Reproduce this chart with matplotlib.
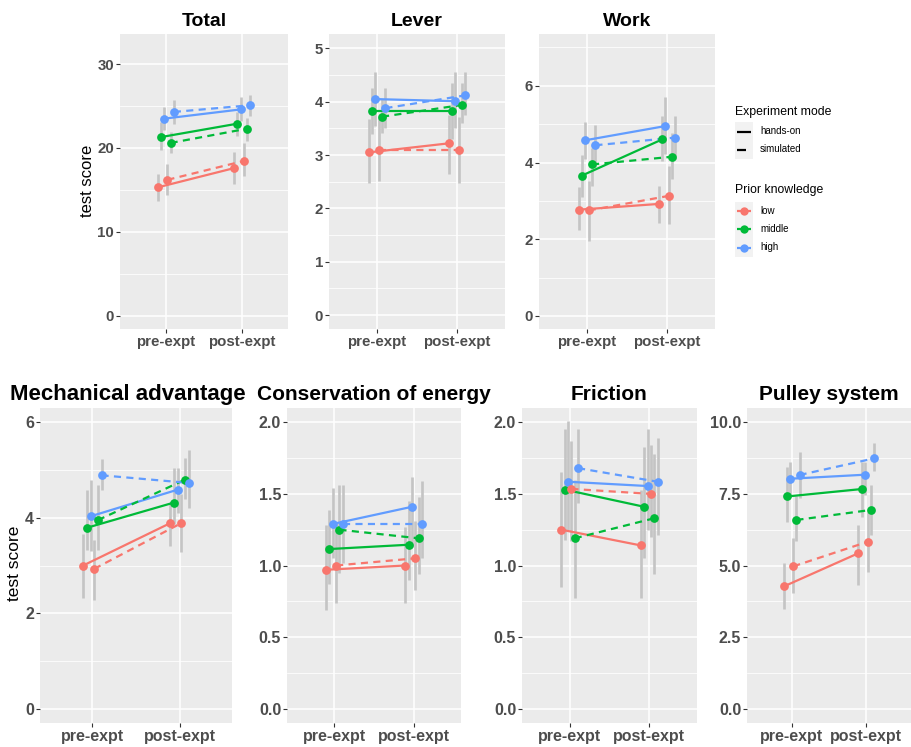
import matplotlib
matplotlib.use("Agg")
import matplotlib.pyplot as plt
from matplotlib.patches import Rectangle

plt.rcParams["font.family"] = ["Liberation Sans", "DejaVu Sans"]

W, H = 912, 747

phases = ["pre-expt", "post-expt"]
knowledge = ["low", "middle", "high"]
modes = ["hands-on", "simulated"]
colors = ["#F8766D", "#00BA38", "#619CFF"]

# rows: low/hands-on, middle/hands-on, high/hands-on, low/simulated, middle/simulated, high/simulated
# cols: pre-expt, post-expt
total_mean = [[15.3, 17.6], [21.3, 22.9], [23.5, 24.6], [16.2, 18.45], [20.6, 22.3], [24.3, 25.1]]
total_lo = [[13.7, 15.7], [19.8, 21.4], [22.2, 23.2], [14.4, 16.65], [19.4, 20.8], [22.9, 23.8]]
total_hi = [[16.9, 19.5], [23.1, 24.3], [24.9, 26.1], [18.05, 20.6], [21.9, 23.6], [25.7, 26.3]]

lever_mean = [[3.05, 3.22], [3.82, 3.82], [4.05, 4.01], [3.10, 3.10], [3.72, 3.94], [3.88, 4.12]]
lever_lo = [[2.48, 2.65], [3.40, 3.30], [3.55, 3.50], [2.52, 2.48], [3.42, 3.60], [3.50, 3.75]]
lever_hi = [[3.68, 3.75], [4.25, 4.35], [4.55, 4.55], [3.70, 3.72], [4.05, 4.35], [4.25, 4.55]]

work_mean = [[2.77, 2.92], [3.66, 4.60], [4.58, 4.95], [2.75, 3.13], [3.95, 4.15], [4.45, 4.65]]
work_lo = [[2.23, 2.42], [3.09, 4.04], [4.10, 4.21], [1.95, 2.40], [3.39, 3.57], [3.87, 4.10]]
work_hi = [[3.35, 3.39], [4.20, 5.20], [5.05, 5.70], [3.52, 3.91], [4.39, 4.77], [4.99, 5.20]]

mech_mean = [[3.00, 3.89], [3.79, 4.32], [4.03, 4.59], [2.93, 3.89], [3.95, 4.80], [4.89, 4.73]]
mech_lo = [[2.31, 3.40], [3.32, 3.88], [3.30, 4.10], [2.27, 3.28], [3.32, 4.40], [4.58, 4.20]]
mech_hi = [[3.67, 4.30], [4.58, 5.04], [4.80, 5.05], [3.53, 4.50], [4.68, 5.25], [5.24, 5.41]]

energy_mean = [[0.97, 1.00], [1.115, 1.145], [1.29, 1.41], [1.00, 1.05], [1.25, 1.19], [1.29, 1.29]]
energy_lo = [[0.69, 0.74], [0.87, 0.90], [1.05, 1.13], [0.74, 0.83], [0.95, 0.94], [1.02, 1.05]]
energy_hi = [[1.28, 1.27], [1.39, 1.45], [1.54, 1.62], [1.28, 1.31], [1.56, 1.48], [1.56, 1.59]]

friction_mean = [[1.25, 1.14], [1.53, 1.41], [1.585, 1.555], [1.535, 1.50], [1.19, 1.33], [1.68, 1.585]]
friction_lo = [[0.85, 0.77], [1.18, 1.05], [1.25, 1.25], [1.17, 1.20], [0.77, 0.94], [1.44, 1.21]]
friction_hi = [[1.65, 1.53], [1.95, 1.83], [2.01, 1.95], [1.87, 1.84], [1.60, 1.78], [1.95, 1.89]]

pulley_mean = [[4.27, 5.43], [7.41, 7.67], [8.03, 8.17], [4.97, 5.83], [6.59, 6.94], [8.16, 8.74]]
pulley_lo = [[3.47, 4.33], [6.53, 6.71], [7.40, 7.47], [4.03, 4.79], [5.84, 6.07], [7.35, 8.31]]
pulley_hi = [[5.07, 6.42], [8.45, 8.63], [8.60, 8.63], [5.95, 6.88], [7.41, 7.81], [8.98, 9.27]]

# title, data, pixel box (x0, y0, x1, y1), ylim, major ticks, minor step, tick format, row
panels = [
    ("Total", total_mean, total_lo, total_hi, (120, 34, 288, 329), (-1.6, 33.6), [0, 10, 20, 30], 5, "{:.0f}", 0),
    ("Lever", lever_mean, lever_lo, lever_hi, (329, 34, 505, 329), (-0.26, 5.27), [0, 1, 2, 3, 4, 5], 0.5, "{:.0f}", 0),
    ("Work", work_mean, work_lo, work_hi, (539, 34, 715, 329), (-0.34, 7.35), [0, 2, 4, 6], 1, "{:.0f}", 0),
    ("Mechanical advantage", mech_mean, mech_lo, mech_hi, (40, 408, 232, 723), (-0.3, 6.3), [0, 2, 4, 6], 1, "{:.0f}", 1),
    ("Conservation of energy", energy_mean, energy_lo, energy_hi, (287, 408, 461, 723), (-0.1, 2.1), [0, 0.5, 1, 1.5, 2], 0.25, "{:.1f}", 1),
    ("Friction", friction_mean, friction_lo, friction_hi, (522, 408, 697, 723), (-0.1, 2.1), [0, 0.5, 1, 1.5, 2], 0.25, "{:.1f}", 1),
    ("Pulley system", pulley_mean, pulley_lo, pulley_hi, (747, 408, 911, 723), (-0.5, 10.5), [0, 2.5, 5, 7.5, 10], 1.25, "{:.1f}", 1),
]

PANEL_BG = "#EBEBEB"
ERR_COLOR = "#C4C4C4"
TICK_COLOR = "#4D4D4D"
DODGE = 0.042


def px_rect(box):
    x0, y0, x1, y1 = box
    return [x0 / W, 1 - y1 / H, (x1 - x0) / W, (y1 - y0) / H]


def draw_panel(fig, title, mean, lo, hi, box, ylim, ticks, minor, fmt, row):
    ax = fig.add_axes(px_rect(box))
    ax.set_facecolor(PANEL_BG)
    for s in ax.spines.values():
        s.set_visible(False)

    ax.set_xlim(0.4, 2.6)
    ax.set_ylim(*ylim)

    minors = []
    v = minor
    while v < ylim[1]:
        if all(abs(v - t) > 1e-9 for t in ticks):
            minors.append(v)
        v += minor
    for m in minors:
        ax.axhline(m, color="white", lw=0.55, zorder=0.5)
    for t in ticks:
        ax.axhline(t, color="white", lw=1.1, zorder=0.6)
    for xi in (1, 2):
        ax.axvline(xi, color="white", lw=1.1, zorder=0.6)

    for g in range(6):
        k = g % 3
        mode = g // 3
        offset = (g - 2.5) * DODGE
        xs = [1 + offset, 2 + offset]
        ax.vlines(xs, lo[g], hi[g], color=ERR_COLOR, lw=1.9, zorder=1)
        ls = "-" if mode == 0 else (0, (3.2, 2.4))
        ax.plot(xs, mean[g], color=colors[k], lw=1.6, ls=ls, zorder=2,
                solid_capstyle="butt")
        ax.plot(xs, mean[g], "o", color=colors[k], ms=6.3, mec="none", zorder=3)

    fs_tick = 10.8 if row == 0 else 11.5
    ax.set_xticks([1, 2])
    ax.set_xticklabels(phases)
    ax.set_yticks(ticks)
    ax.set_yticklabels([fmt.format(t) for t in ticks])
    ax.tick_params(axis="both", colors="#333333", length=3, width=0.8, pad=1.2,
                   labelsize=fs_tick, labelcolor=TICK_COLOR)
    for lab in ax.get_xticklabels() + ax.get_yticklabels():
        lab.set_fontweight("bold")

    fs_title = 14 if row == 0 else 15
    tx = 0.5
    if title == "Mechanical advantage":
        fs_title = 16
        tx = 0.455
    ax.set_title(title, fontsize=fs_title, fontweight="bold", color="black",
                 pad=5.5, x=tx)
    return ax


fig = plt.figure(figsize=(W / 100, H / 100), dpi=100)

for p in panels:
    draw_panel(fig, *p)

# y axis labels
fig.text(88 / W, 1 - 181 / H, "test score", rotation=90, ha="center", va="center",
         fontsize=12, color="black")
fig.text(15 / W, 1 - 563 / H, "test score", rotation=90, ha="center", va="center",
         fontsize=12.5, color="black")

# legend drawn in pixel coordinates
lg = fig.add_axes([0, 0, 1, 1], zorder=-1)
lg.set_xlim(0, W)
lg.set_ylim(H, 0)
lg.axis("off")

lg.text(735, 114.5, "Experiment mode", fontsize=8.8, va="baseline", ha="left")
lg.add_patch(Rectangle((735, 122), 18, 36.5, color="#F2F2F2", lw=0))
mode_y = [131.5, 149.5]
lg.plot([737, 751.5], [mode_y[0]] * 2, color="black", lw=1.6, solid_capstyle="butt")
lg.plot([737, 746.5], [mode_y[1]] * 2, color="black", lw=1.6, solid_capstyle="butt")
for y, m in zip(mode_y, modes):
    lg.text(760, y, m, fontsize=7, va="center", ha="left")

lg.text(735, 193, "Prior knowledge", fontsize=8.8, va="baseline", ha="left")
lg.add_patch(Rectangle((735, 201.5), 18, 55, color="#F2F2F2", lw=0))
know_y = [210.8, 229.2, 247.5]
for y, k, c in zip(know_y, knowledge, colors):
    lg.plot([737, 751.5], [y, y], color=c, lw=1.6, solid_capstyle="butt")
    lg.plot([744.2], [y], "o", color=c, ms=6, mec="none")
    lg.text(760, y, k, fontsize=7, va="center", ha="left")

fig.savefig("out.png", dpi=100)
